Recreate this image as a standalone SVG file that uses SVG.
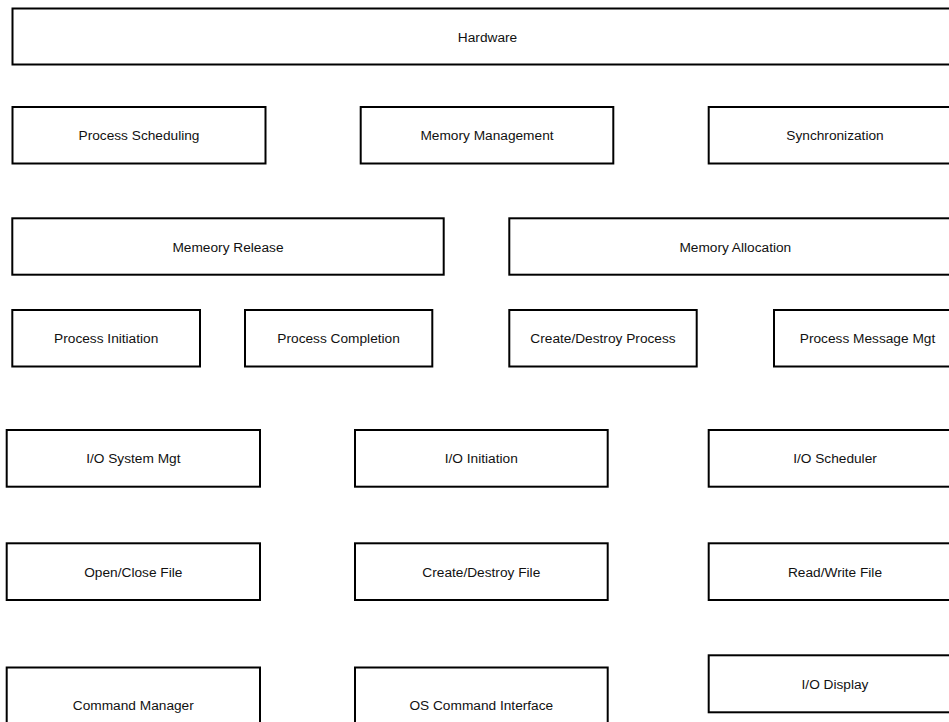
<svg xmlns="http://www.w3.org/2000/svg" width="949" height="722" viewBox="0 0 949 722">
  <style>
    .box { fill: #ffffff; stroke: #000000; stroke-width: 2; }
    .label { font-family: "Liberation Sans", Arial, sans-serif; font-size: 13.7px; fill: #111111; text-anchor: middle; }
  </style>
  <rect x="0" y="0" width="949" height="722" fill="#ffffff"/>

  <!-- row 1 -->
  <g id="hardware">
    <rect class="box" x="12.5" y="8.5" width="950" height="56"/>
    <text class="label" x="487.5" y="41.5">Hardware</text>
  </g>

  <!-- row 2 -->
  <g id="process-scheduling">
    <rect class="box" x="12.5" y="107" width="253" height="56.5"/>
    <text class="label" x="139" y="140.2">Process Scheduling</text>
  </g>
  <g id="memory-management">
    <rect class="box" x="360.7" y="107" width="252.6" height="56.5"/>
    <text class="label" x="487" y="140.2">Memory Management</text>
  </g>
  <g id="synchronization">
    <rect class="box" x="708.7" y="107" width="252.3" height="56.5"/>
    <text class="label" x="835" y="140.2">Synchronization</text>
  </g>

  <!-- row 3 -->
  <g id="memory-release">
    <rect class="box" x="12.3" y="218.3" width="431.4" height="56.4"/>
    <text class="label" x="228" y="251.5">Memeory Release</text>
  </g>
  <g id="memory-allocation">
    <rect class="box" x="509.3" y="218.3" width="451.7" height="56.4"/>
    <text class="label" x="735.3" y="251.5">Memory Allocation</text>
  </g>

  <!-- row 4 -->
  <g id="process-initiation">
    <rect class="box" x="12.3" y="310" width="187.7" height="56.5"/>
    <text class="label" x="106.2" y="343.2">Process Initiation</text>
  </g>
  <g id="process-completion">
    <rect class="box" x="245" y="310" width="187.3" height="56.5"/>
    <text class="label" x="338.6" y="343.2">Process Completion</text>
  </g>
  <g id="create-destroy-process">
    <rect class="box" x="509.3" y="310" width="187.4" height="56.5"/>
    <text class="label" x="603" y="343.2">Create/Destroy Process</text>
  </g>
  <g id="process-message-mgt">
    <rect class="box" x="774" y="310" width="187" height="56.5"/>
    <text class="label" x="867.5" y="343.2">Process Message Mgt</text>
  </g>

  <!-- row 5 -->
  <g id="io-system-mgt">
    <rect class="box" x="6.7" y="430" width="253.3" height="56.7"/>
    <text class="label" x="133.3" y="463.3">I/O System Mgt</text>
  </g>
  <g id="io-initiation">
    <rect class="box" x="355" y="430" width="252.7" height="56.7"/>
    <text class="label" x="481.3" y="463.3">I/O Initiation</text>
  </g>
  <g id="io-scheduler">
    <rect class="box" x="708.7" y="430" width="252.3" height="56.7"/>
    <text class="label" x="835" y="463.3">I/O Scheduler</text>
  </g>

  <!-- row 6 -->
  <g id="open-close-file">
    <rect class="box" x="6.7" y="543.3" width="253.3" height="56.7"/>
    <text class="label" x="133.3" y="576.6">Open/Close File</text>
  </g>
  <g id="create-destroy-file">
    <rect class="box" x="355" y="543.3" width="252.7" height="56.7"/>
    <text class="label" x="481.3" y="576.6">Create/Destroy File</text>
  </g>
  <g id="read-write-file">
    <rect class="box" x="708.7" y="543.3" width="252.3" height="56.7"/>
    <text class="label" x="835" y="576.6">Read/Write File</text>
  </g>

  <!-- row 7 -->
  <g id="command-manager">
    <rect class="box" x="6.7" y="667.5" width="253.3" height="70"/>
    <text class="label" x="133.3" y="709.5">Command Manager</text>
  </g>
  <g id="os-command-interface">
    <rect class="box" x="355" y="667.5" width="252.7" height="70"/>
    <text class="label" x="481.3" y="709.5">OS Command Interface</text>
  </g>
  <g id="io-display">
    <rect class="box" x="708.7" y="655.3" width="252.3" height="57"/>
    <text class="label" x="835" y="689">I/O Display</text>
  </g>

  <g id="connectors"/>
</svg>
